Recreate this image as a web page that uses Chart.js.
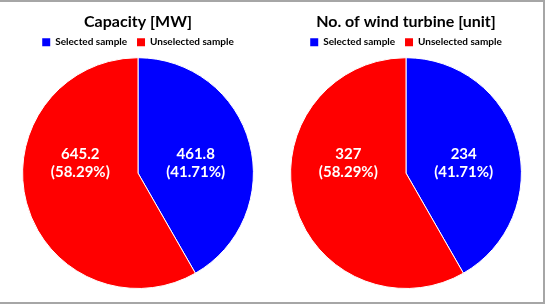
<!DOCTYPE html>
<html><head><meta charset="utf-8">
<script src="https://cdn.jsdelivr.net/npm/chart.js@4/dist/chart.umd.min.js"></script>
<style>
html,body{margin:0;padding:0;background:#fff;}
#wrap{position:relative;width:547px;height:305px;overflow:hidden;background:#fff;}
.c{position:absolute;top:0;}
#b1{position:absolute;left:0;top:0;width:545px;height:2px;background:#a6a6a6;}
#b2{position:absolute;left:543px;top:0;width:2px;height:304px;background:#a6a6a6;}
#b3{position:absolute;left:0;top:302px;width:545px;height:2px;background:#a6a6a6;}
</style></head>
<body><div id="wrap">
<div class="c" style="left:0;width:276px;height:305px"><canvas id="c1"></canvas></div>
<div class="c" style="left:276px;width:260px;height:305px"><canvas id="c2"></canvas></div>
<div id="b1"></div><div id="b2"></div><div id="b3"></div>
</div>
<script>
const categories = ['Selected sample', 'Unselected sample'];
const capacityValues = [461.8, 645.2];
const turbineValues = [234, 327];
const percentLabels = ['41.71%', '58.29%'];
const titles = ['Capacity [MW]', 'No. of wind turbine [unit]'];
const colors = ['#0000FF', '#FF0000'];
const FONT = 'Lato, "Open Sans", sans-serif';

const sliceLabels = {
  id: 'sliceLabels',
  afterDatasetsDraw(chart) {
    const ctx = chart.ctx;
    const meta = chart.getDatasetMeta(0);
    ctx.save();
    ctx.fillStyle = '#ffffff';
    ctx.font = 'bold 15px ' + FONT;
    ctx.textAlign = 'center';
    ctx.textBaseline = 'middle';
    meta.data.forEach((arc, i) => {
      const mid = (arc.startAngle + arc.endAngle) / 2;
      const r = arc.outerRadius;
      const x = arc.x + Math.sign(Math.cos(mid)) * 0.5 * r;
      const y = arc.y - 0.09 * r;
      const v = chart.data.datasets[0].data[i];
      ctx.fillText(String(v), x, y - 9);
      ctx.fillText('(' + percentLabels[i] + ')', x, y + 9);
    });
    ctx.restore();
  }
};

function makePie(id, title, values) {
  return new Chart(document.getElementById(id), {
    type: 'pie',
    data: {
      labels: categories,
      datasets: [{ data: values, backgroundColor: colors, borderColor: '#ffffff', borderWidth: 1 }]
    },
    options: {
      responsive: true,
      maintainAspectRatio: false,
      animation: false,
      layout: { padding: { top: 4, bottom: 16 } },
      plugins: {
        title: {
          display: true, text: title, color: '#000',
          font: { family: FONT, size: 16, weight: 'bold' },
          padding: { top: 8, bottom: 1 }
        },
        legend: {
          display: true, position: 'top',
          labels: {
            color: '#000', boxWidth: 8, boxHeight: 8,
            font: { family: FONT, size: 10, weight: 'bold' },
            padding: 5,
            generateLabels(chart) {
              const items = Chart.overrides.pie.plugins.legend.labels.generateLabels(chart);
              items.forEach((it, i) => { if (i < items.length - 1) it.text = it.text + '  '; it.lineWidth = 0; });
              return items;
            }
          }
        },
        tooltip: { enabled: false }
      }
    },
    plugins: [sliceLabels]
  });
}
makePie('c1', titles[0], capacityValues);
makePie('c2', titles[1], turbineValues);
</script>
</body></html>
